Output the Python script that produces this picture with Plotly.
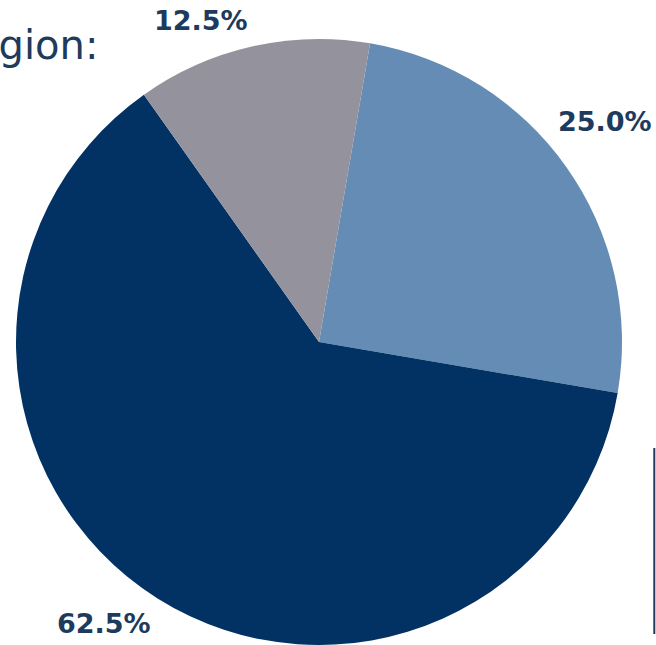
import math
import plotly.graph_objects as go

# Data
categories = ["Region B", "Region A", "Region C"]
values = [2, 5, 1]  # shares: 25.0%, 62.5%, 12.5%
colors = ["#658cb5", "#023263", "#94939d"]
title_text = "Region:"

W, H = 656, 645
CX, CY, R = 319, 342, 303          # pie centre / radius in pixels
ROT = 9.7                          # start angle of first slice (deg, clockwise from 12 o'clock)
LABEL_R = 1.03 * R
FS = 27
TXT = "#1e3a5c"

fig = go.Figure(go.Pie(
    labels=categories,
    values=values,
    sort=False,
    direction="clockwise",
    rotation=ROT,
    marker=dict(colors=colors, line=dict(width=0)),
    textinfo="none",
    domain=dict(x=[(CX - R) / W, (CX + R) / W], y=[1 - (CY + R) / H, 1 - (CY - R) / H]),
    showlegend=False,
    hoverinfo="label+percent",
))

# percentage labels outside each slice, derived from the values
char_w = {".": 0.380, "%": 1.002}
total = sum(values)
cum = 0
for v in values:
    frac = v / total
    mid = math.radians(ROT + 360 * (cum + frac / 2))
    cum += frac
    txt = f"{frac * 100:.1f}%"
    tw = sum(char_w.get(c, 0.696) for c in txt) * FS + 2
    s, c = math.sin(mid), math.cos(mid)
    px = CX + LABEL_R * s
    # slide the label along its circle if it would leave the canvas
    if s > 0 and px + tw > W - 4:
        s = (W - 4 - tw - CX) / LABEL_R
        c = math.copysign(math.sqrt(1 - s * s), c)
    elif s < 0 and px - tw < 4:
        s = (4 + tw - CX) / LABEL_R
        c = math.copysign(math.sqrt(1 - s * s), c)
    px = CX + LABEL_R * s
    py = CY - LABEL_R * c
    fig.add_annotation(
        text=f"<b>{txt}</b>", xref="paper", yref="paper",
        x=px / W, y=1 - py / H,
        xanchor="left" if s > 0 else "right",
        yanchor="bottom" if c > 0 else "top",
        showarrow=False,
        font=dict(family="DejaVu Sans", size=FS, color=TXT),
    )

fig.add_annotation(
    text=title_text, xref="paper", yref="paper",
    x=100 / W, y=1 - 44.5 / H, xanchor="right", yanchor="middle",
    showarrow=False,
    font=dict(family="DejaVu Sans", size=40, color=TXT),
)

fig.add_shape(
    type="line", xref="paper", yref="paper",
    x0=654.3 / W, x1=654.3 / W, y0=1 - 448 / H, y1=1 - 634 / H,
    line=dict(color=TXT, width=2),
)

fig.update_layout(
    width=W, height=H,
    margin=dict(l=0, r=0, t=0, b=0),
    paper_bgcolor="white",
    plot_bgcolor="white",
)

fig.write_html(
    "out.html",
    config={"displayModeBar": False},
    post_script="document.body.style.margin='0';document.body.style.padding='0';"
                "document.documentElement.style.overflow='hidden';",
)
